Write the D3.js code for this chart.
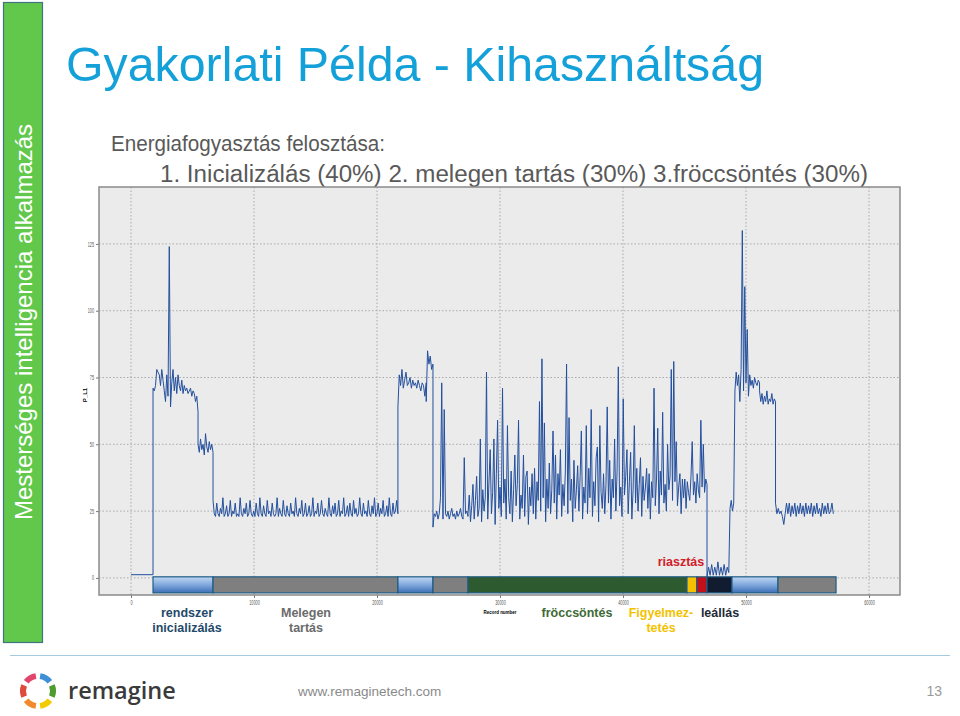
<!DOCTYPE html>
<html>
<head>
<meta charset="utf-8">
<script src="https://cdn.jsdelivr.net/npm/d3@7"></script>
<style>
  body { margin: 0; background: #fff; }
  svg { display: block; font-family: 'Liberation Sans', Arial, sans-serif; }
</style>
</head>
<body>
<div class="slide"></div>
<script>
;(function () {
  var sideTitle = 'Mesterséges intelligencia alkalmazás'
  var title = 'Gyakorlati Példa - Kihasználtság'
  var subtitle = ['Energiafogyasztás felosztása:', '1. Inicializálás (40%) 2. melegen tartás (30%) 3.fröccsöntés (30%)']

  var xTicks = [0, 10000, 20000, 30000, 40000, 50000, 60000]
  var yTicks = [0, 25, 50, 75, 100, 125]
  var xTitle = 'Record number'
  var yTitle = 'P_L1'

  // P_L1 readings, one array for each stretch of the record
  var idle = [1.2, 1.2]
  var initHigh = [71, 70, 72, 78, 77, 76, 72, 78, 74, 70, 66, 76, 68, 124, 64, 73, 78, 70, 75, 69, 76, 72, 70, 74, 69, 72, 70, 71, 69, 70, 71, 68, 70, 69, 66, 68, 62]
  var initMid = [50, 47, 52, 48, 50, 46, 54, 49, 47, 51, 48, 50, 47]
  var warmLow = [29, 24, 23, 28, 24, 23, 26, 24, 30, 23,
    24, 27, 23, 24, 29, 23, 25, 24, 28, 23,
    24, 23, 30, 24, 23, 26, 24, 28, 23, 24,
    29, 24, 23, 25, 23, 28, 24, 23, 30, 24,
    23, 27, 24, 23, 29, 24, 25, 23, 28, 24,
    23, 24, 30, 23, 26, 24, 23, 29, 24, 23,
    27, 24, 23, 28, 24, 25, 23, 30, 24, 23,
    26, 24, 29, 23, 24, 28, 23, 24, 27, 23,
    24, 30, 23, 25, 24, 28, 23, 24, 29, 24,
    23, 26, 24, 23, 30, 24, 23, 27, 24, 28,
    23, 24, 29, 23, 25, 24, 30, 23, 24, 27,
    23, 28, 24, 23, 29, 24, 26, 23, 24, 30,
    24, 23, 28, 24, 25, 23, 29, 24, 23, 27,
    24, 30, 23, 24, 28, 23, 26, 24, 29, 23,
    24, 27, 23, 30, 24, 23, 28, 24, 25, 29,
    24]
  var warmHigh = [64, 76, 72, 78, 71, 74, 77, 72, 73, 75, 71, 74, 72, 73, 71, 74, 72, 70, 73, 72, 68, 73]
  var warmPeak = [66, 85, 80, 83, 78, 80]
  var preShot = [19, 24, 23, 25, 22, 24, 30, 73, 22, 63, 24, 23, 25, 22, 24, 26, 23, 24, 22, 25, 23, 24, 26, 23, 22, 45, 24, 25, 23]
  var injection = [24, 31, 21, 27, 35, 22, 29, 38, 23, 26,
    52, 21, 33, 25, 30, 77, 22, 36, 48, 24,
    32, 52, 20, 39, 59, 26, 34, 23, 71, 28,
    37, 22, 57, 30, 24, 40, 21, 33, 46, 27,
    35, 59, 22, 31, 26, 46, 23, 38, 40, 20,
    34, 27, 39, 24, 41, 22, 36, 29, 66, 25,
    82, 30, 58, 21, 37, 26, 43, 24, 33, 55,
    28, 46, 22, 39, 31, 48, 23, 35, 27, 40,
    80, 24, 60, 29, 37, 21, 44, 26, 33, 42,
    25, 38, 55, 22, 34, 28, 57, 24, 41, 30,
    63, 23, 36, 27, 45, 49, 21, 57, 32, 26,
    39, 24, 35, 64, 28, 44, 22, 37, 30, 52,
    25, 40, 79, 27, 34, 23, 67, 31, 38, 48,
    24, 36, 47, 22, 33, 57, 28, 41, 25, 35,
    45, 23, 38, 29, 34, 41, 26, 39, 22, 36,
    30, 71, 27, 37, 56, 24, 40, 31, 62, 28,
    35, 25, 50, 33, 38, 78, 29, 81, 36, 51,
    27, 34, 39, 24, 37, 30, 37, 26, 36, 32,
    29, 38, 51, 31, 36, 28, 39, 33, 30, 59,
    34, 50, 32, 37, 35]
  var alarmLow = [0.5, 4, 1, 5, 1, 4, 1, 6, 1, 4, 1, 5, 1, 4, 2]
  var restart = [2, 26, 29, 25, 28]
  var holdHigh = [70, 77, 72, 76, 66, 78, 130, 70, 109, 73, 93, 68, 76, 72, 74, 71, 75, 73, 72, 74, 73]
  var holdLow = [70, 66, 69, 65, 68, 66, 70, 65, 67, 66, 69, 65, 67, 66]
  var coolLow = [28, 24, 26, 24, 25, 23, 20, 24, 28, 24, 28, 23, 27, 24, 28, 23, 27, 24, 28, 24, 27, 23, 28, 24, 27, 24, 28, 23, 27, 24, 28, 24, 26, 23, 28, 24, 27, 24, 28, 24, 25, 28, 24]

  var segmentValues = [idle, initHigh, initMid, warmLow, warmHigh, warmPeak, preShot, injection, alarmLow, restart, holdHigh, holdLow, coolLow]
  var segmentRanges = [[0, 1790], [1790, 5450], [5450, 6670], [6670, 21700], [21700, 24000], [24000, 24550], [24550, 27400], [27400, 46830], [46830, 48600], [48600, 49000], [49100, 51100], [51100, 52400], [52400, 57100]]

  // phase bar under the curve
  var phaseKinds = ['init', 'warm', 'init', 'warm', 'inject', 'warn', 'alarm', 'stop', 'init', 'warm']
  var phaseEdges = [1790, 6670, 21700, 24550, 27400, 45200, 46000, 46830, 48860, 52600, 57320]

  var phaseLabels = [['rendszer', 'inicializálás'], ['Melegen', 'tartás'], ['fröccsöntés'], ['Figyelmez-', 'tetés'], ['leállás']]
  var alarmLabel = 'riasztás'

  var footer = { brand: 'remagine', url: 'www.remaginetech.com', page: '13' }

  var W = 960
  var H = 716
  var svg = d3.select('.slide').append('svg')
    .attr('width', W)
    .attr('height', H)

  // Side band
  svg.append('rect')
    .attr('x', 3.5).attr('y', 2.5)
    .attr('width', 39).attr('height', 640)
    .attr('fill', '#62c84b')
    .attr('stroke', '#3f7480')
    .attr('stroke-width', 1.2)
  svg.append('text')
    .attr('transform', 'translate(32,322) rotate(-90)')
    .attr('text-anchor', 'middle')
    .attr('font-size', 24)
    .attr('fill', '#fff')
    .text(sideTitle)

  // Title
  svg.append('text')
    .attr('x', 66).attr('y', 81)
    .attr('font-size', 48)
    .attr('fill', '#14a0d8')
    .attr('textLength', 698)
    .attr('lengthAdjust', 'spacingAndGlyphs')
    .text(title)
  svg.append('text')
    .attr('x', 111).attr('y', 151)
    .attr('font-size', 22)
    .attr('fill', '#595959')
    .attr('textLength', 274)
    .attr('lengthAdjust', 'spacingAndGlyphs')
    .text(subtitle[0])
  svg.append('text')
    .attr('x', 160).attr('y', 182)
    .attr('font-size', 23.5)
    .attr('fill', '#595959')
    .attr('textLength', 708)
    .attr('lengthAdjust', 'spacingAndGlyphs')
    .text(subtitle[1])

  // Chart panel
  var P = { left: 99, right: 900, top: 187, bottom: 595 }
  var x = d3.scaleLinear().domain([-2602, 62520]).range([P.left, P.right])
  var y = d3.scaleLinear().domain([-6.4, 146.3]).range([P.bottom, P.top])

  svg.append('rect')
    .attr('x', P.left).attr('y', P.top)
    .attr('width', P.right - P.left).attr('height', P.bottom - P.top)
    .attr('fill', '#ebebeb')

  var grid = svg.append('g').attr('class', 'grid')
  grid.selectAll('line.h').data(yTicks).enter().append('line')
    .attr('class', 'h')
    .attr('x1', P.left).attr('x2', P.right)
    .attr('y1', function (d) { return y(d) }).attr('y2', function (d) { return y(d) })
  grid.selectAll('line.v').data(xTicks).enter().append('line')
    .attr('class', 'v')
    .attr('y1', P.top).attr('y2', P.bottom)
    .attr('x1', function (d) { return x(d) }).attr('x2', function (d) { return x(d) })
  grid.selectAll('line')
    .attr('stroke', '#a9a9a9')
    .attr('stroke-width', 1)
    .attr('stroke-dasharray', '1.5,2')

  var yAxis = svg.append('g')
    .attr('transform', 'translate(' + P.left + ',0)')
    .call(d3.axisLeft(y).tickValues(yTicks).tickSize(3).tickPadding(2))
  var xAxis = svg.append('g')
    .attr('transform', 'translate(0,' + P.bottom + ')')
    .call(d3.axisBottom(x).tickValues(xTicks).tickSize(3).tickPadding(2).tickFormat(d3.format('d')))
  ;[yAxis, xAxis].forEach(function (ax) {
    ax.select('.domain').remove()
    ax.selectAll('.tick line').attr('stroke', '#777')
    ax.selectAll('.tick text')
      .attr('font-family', "'Liberation Sans', Arial, sans-serif")
      .attr('font-size', 6.5)
      .attr('fill', '#555')
      .attr('textLength', function (d) { return String(d).length * 2.1 })
      .attr('lengthAdjust', 'spacingAndGlyphs')
  })

  svg.append('text')
    .attr('x', x(30000)).attr('y', 614)
    .attr('text-anchor', 'middle')
    .attr('font-size', 6)
    .attr('font-weight', 'bold')
    .attr('textLength', 33)
    .attr('lengthAdjust', 'spacingAndGlyphs')
    .text(xTitle)
  svg.append('text')
    .attr('transform', 'translate(87,395) rotate(-90)')
    .attr('text-anchor', 'middle')
    .attr('font-size', 6)
    .attr('font-weight', 'bold')
    .text(yTitle)

  // Curve
  var points = []
  segmentValues.forEach(function (vals, i) {
    var r0 = segmentRanges[i][0]
    var r1 = segmentRanges[i][1]
    vals.forEach(function (v, j) {
      points.push([r0 + (r1 - r0) * j / (vals.length - 1), v])
    })
  })

  svg.append('clipPath').attr('id', 'panel')
    .append('rect')
    .attr('x', P.left).attr('y', P.top)
    .attr('width', P.right - P.left).attr('height', P.bottom - P.top)

  svg.append('path')
    .datum(points)
    .attr('clip-path', 'url(#panel)')
    .attr('fill', 'none')
    .attr('stroke', '#234f9e')
    .attr('stroke-width', 1)
    .attr('stroke-linejoin', 'round')
    .attr('d', d3.line()
      .x(function (d) { return x(d[0]) })
      .y(function (d) { return y(d[1]) }))

  svg.append('rect')
    .attr('x', P.left).attr('y', P.top)
    .attr('width', P.right - P.left).attr('height', P.bottom - P.top)
    .attr('fill', 'none')
    .attr('stroke', '#8a8a8a')
    .attr('stroke-width', 1.5)

  // Phase bar
  var grad = svg.append('defs').append('linearGradient')
    .attr('id', 'blue')
    .attr('x1', 0).attr('y1', 0).attr('x2', 0).attr('y2', 1)
  grad.append('stop').attr('offset', 0).attr('stop-color', '#c0d8f4')
  grad.append('stop').attr('offset', 0.5).attr('stop-color', '#80a8dc')
  grad.append('stop').attr('offset', 1).attr('stop-color', '#3d6fb6')

  var phaseFill = {
    init: 'url(#blue)',
    warm: '#7f7f7f',
    inject: '#2e5a2f',
    warn: '#f5c000',
    alarm: '#c2101b',
    stop: '#121c31'
  }
  var barTop = y(0.4)
  var barBottom = y(-5.6)
  svg.append('g').selectAll('rect').data(phaseKinds).enter().append('rect')
    .attr('x', function (d, i) { return x(phaseEdges[i]) })
    .attr('width', function (d, i) { return x(phaseEdges[i + 1]) - x(phaseEdges[i]) })
    .attr('y', barTop)
    .attr('height', barBottom - barTop)
    .attr('fill', function (d) { return phaseFill[d] })
    .attr('stroke', '#1d5b84')
    .attr('stroke-width', 1.2)

  // Phase labels
  var labelStyle = [
    { x: 187, color: '#1f4a6a' },
    { x: 306, color: '#6b6b6b' },
    { x: 577, color: '#3d6b35' },
    { x: 661, color: '#f2c200' },
    { x: 720, color: '#1e2a38' }
  ]
  phaseLabels.forEach(function (lines, i) {
    var t = svg.append('text')
      .attr('text-anchor', 'middle')
      .attr('font-size', 12.5)
      .attr('font-weight', 'bold')
      .attr('fill', labelStyle[i].color)
    lines.forEach(function (line, j) {
      t.append('tspan')
        .attr('x', labelStyle[i].x)
        .attr('y', 617 + j * 15)
        .text(line)
    })
  })
  svg.append('text')
    .attr('x', 681).attr('y', 566)
    .attr('text-anchor', 'middle')
    .attr('font-size', 12.5)
    .attr('font-weight', 'bold')
    .attr('fill', '#d0202a')
    .text(alarmLabel)

  // Footer
  svg.append('line')
    .attr('x1', 10).attr('x2', 950)
    .attr('y1', 655.5).attr('y2', 655.5)
    .attr('stroke', '#a6cbe0')
    .attr('stroke-width', 1.2)

  var petals = [
    { a: -30, c: '#e2456b' },
    { a: 30, c: '#3f8fd6' },
    { a: 90, c: '#4f9d2f' },
    { a: 150, c: '#f2cc00' },
    { a: 210, c: '#f08a2c' },
    { a: 270, c: '#e04a3a' }
  ]
  var arc = d3.arc().innerRadius(12).outerRadius(18)
  svg.append('g')
    .attr('transform', 'translate(38,691)')
    .selectAll('path').data(petals).enter().append('path')
    .attr('d', function (d) {
      return arc({ startAngle: (d.a - 22) * Math.PI / 180, endAngle: (d.a + 22) * Math.PI / 180 })
    })
    .attr('fill', function (d) { return d.c })

  svg.append('text')
    .attr('x', 68).attr('y', 699)
    .attr('font-family', "'Open Sans', sans-serif")
    .attr('font-weight', 600)
    .attr('font-size', 23.5)
    .attr('fill', '#3a3a3a')
    .text(footer.brand)
  svg.append('text')
    .attr('x', 298).attr('y', 696)
    .attr('font-size', 13.5)
    .attr('fill', '#8a8a8a')
    .text(footer.url)
  svg.append('text')
    .attr('x', 942).attr('y', 696)
    .attr('text-anchor', 'end')
    .attr('font-size', 14)
    .attr('fill', '#9a9a9a')
    .text(footer.page)
})()
</script>
</body>
</html>
